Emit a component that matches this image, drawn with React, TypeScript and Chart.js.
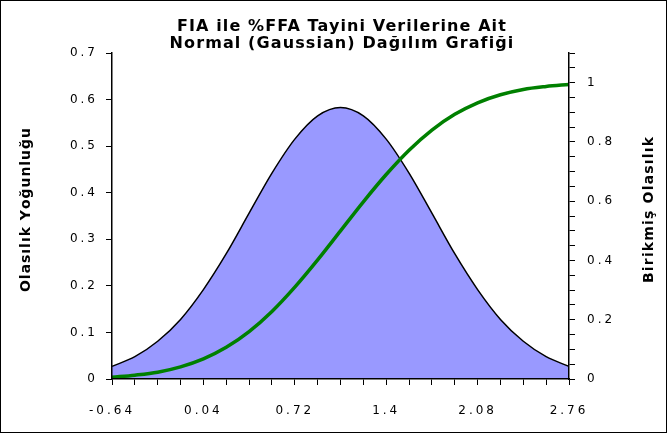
import React, { useEffect, useRef } from 'react';
import { Chart, registerables } from 'chart.js';

Chart.register(...registerables);

const titleLines = ['FIA ile %FFA Tayini Verilerine Ait', 'Normal (Gaussian) Dağılım Grafiği'];
const leftAxisTitle = 'Olasılık Yoğunluğu';
const rightAxisTitle = 'Birikmiş Olasılık';

const xValues = [-0.64, -0.47, -0.3, -0.13, 0.04, 0.21, 0.38, 0.55, 0.72, 0.89, 1.06, 1.23, 1.4, 1.57, 1.74, 1.91, 2.08, 2.25, 2.42, 2.59, 2.76];
const densityValues = [0.027, 0.048, 0.081, 0.128, 0.192, 0.269, 0.356, 0.442, 0.515, 0.565, 0.583, 0.565, 0.515, 0.442, 0.356, 0.269, 0.192, 0.128, 0.081, 0.048, 0.027];
const cumulativeValues = [0.006, 0.013, 0.023, 0.041, 0.068, 0.107, 0.16, 0.228, 0.31, 0.402, 0.5, 0.598, 0.69, 0.772, 0.84, 0.893, 0.932, 0.959, 0.977, 0.987, 0.994];

const fmt = (v: number) => String(Number(v.toFixed(2)));
const TICK_FONT = { family: '"DejaVu Sans", Verdana, sans-serif', size: 12 };
const AXIS_TITLE_FONT = 'bold 14px "DejaVu Sans", Verdana, sans-serif';

function drawSpaced(ctx: CanvasRenderingContext2D, text: string, font: string, cx: number, y: number, targetWidth: number) {
  ctx.font = '10px serif';
  (ctx as any).letterSpacing = '0px';
  ctx.font = font;
  ctx.textAlign = 'left';
  const chars = Array.from(text);
  const widths = chars.map((c) => ctx.measureText(c).width);
  const natural = widths.reduce((a, b) => a + b, 0);
  const spacing = Math.max(0, (targetWidth - natural) / (chars.length - 1));
  const total = natural + spacing * (chars.length - 1);
  let x = cx - total / 2;
  chars.forEach((c, i) => {
    ctx.fillText(c, x, y);
    x += widths[i] + spacing;
  });
}

export default function App() {
  const ref = useRef<HTMLCanvasElement>(null);

  useEffect(() => {
    document.body.style.margin = '0';
    const canvas = ref.current!;

    const spacingPlugin = {
      id: 'tickSpacing',
      beforeUpdate(chart: any) {
        chart.ctx.save();
        chart.ctx.letterSpacing = '3px';
      },
      afterUpdate(chart: any) {
        chart.ctx.restore();
      },
      beforeDraw(chart: any) {
        chart.ctx.save();
        chart.ctx.letterSpacing = '3px';
      },
      afterDraw(chart: any) {
        chart.ctx.restore();
      },
    };

    const textPlugin = {
      id: 'axisTitles',
      afterDraw(chart: any) {
        const ctx = chart.ctx as CanvasRenderingContext2D;
        ctx.save();
        ctx.fillStyle = '#000';
        ctx.textBaseline = 'middle';
        const cy = 209;
        ctx.save();
        ctx.translate(25, cy);
        ctx.rotate(-Math.PI / 2);
        drawSpaced(ctx, leftAxisTitle, AXIS_TITLE_FONT, 0, 0, 164);
        ctx.restore();
        ctx.save();
        ctx.translate(648, cy);
        ctx.rotate(-Math.PI / 2);
        drawSpaced(ctx, rightAxisTitle, AXIS_TITLE_FONT, 0, 0, 146);
        ctx.restore();
        ctx.restore();
      },
    };

    const chart = new Chart(canvas, {
      type: 'line',
      data: {
        labels: xValues.map((v) => fmt(v)),
        datasets: [
          {
            label: 'Birikmiş Olasılık',
            data: cumulativeValues,
            yAxisID: 'y1',
            borderColor: '#008000',
            borderWidth: 3.5,
            pointRadius: 0,
            fill: false,
            cubicInterpolationMode: 'monotone',
            order: 0,
          },
          {
            label: 'Olasılık Yoğunluğu',
            data: densityValues,
            yAxisID: 'y',
            borderColor: '#000000',
            borderWidth: 1.5,
            backgroundColor: '#9999FF',
            pointRadius: 0,
            fill: 'origin',
            cubicInterpolationMode: 'monotone',
            order: 1,
          },
        ],
      },
      options: {
        animation: false,
        responsive: false,
        devicePixelRatio: 1,
        layout: { padding: { top: 52, left: 0, right: 0, bottom: 0 } },
        plugins: {
          legend: { display: false },
          title: { display: false },
          tooltip: { enabled: false },
        },
        scales: {
          x: {
            type: 'category',
            offset: false,
            grid: { display: true, drawOnChartArea: false, drawTicks: true, tickLength: 6, color: '#000', offset: false },
            border: { display: true, color: '#000', width: 1.5, z: 1 },
            ticks: {
              autoSkip: false,
              maxRotation: 0,
              padding: 19,
              color: '#000',
              font: TICK_FONT,
              callback: (_v: any, i: number) => (i % 4 === 0 ? fmt(xValues[i]) : ''),
            },
            afterFit: (s: any) => {
              s.height = 53;
            },
          },
          y: {
            type: 'linear',
            position: 'left',
            min: 0,
            max: 0.7,
            grid: { display: true, drawOnChartArea: false, drawTicks: true, tickLength: 6, color: '#000' },
            border: { display: true, color: '#000', width: 1.5, z: 1 },
            ticks: {
              stepSize: 0.1,
              padding: 8,
              color: '#000',
              font: TICK_FONT,
              callback: (v: any) => fmt(Number(v)),
            },
            afterFit: (s: any) => {
              s.width = 111;
            },
          },
          y1: {
            type: 'linear',
            position: 'right',
            min: 0,
            max: 1.1,
            grid: { display: true, drawOnChartArea: false, drawTicks: true, tickLength: 6, color: '#000' },
            border: { display: true, color: '#000', width: 1.5, z: 1 },
            ticks: {
              stepSize: 0.05,
              autoSkip: false,
              padding: 12,
              color: '#000',
              font: TICK_FONT,
              callback: (v: any) => {
                const n = Number(v);
                const r = n / 0.2;
                return Math.abs(r - Math.round(r)) < 1e-6 ? fmt(n) : '';
              },
            },
            afterFit: (s: any) => {
              s.width = 97;
            },
          },
        },
      },
      plugins: [spacingPlugin, textPlugin],
    } as any);

    return () => chart.destroy();
  }, []);

  const titleStyle: React.CSSProperties = {
    position: 'absolute',
    left: 91,
    width: 500,
    textAlign: 'center',
    font: 'bold 16px "DejaVu Sans", Verdana, sans-serif',
    lineHeight: '17px',
    letterSpacing: '1.1px',
    whiteSpace: 'nowrap',
    color: '#000',
    pointerEvents: 'none',
  };

  return (
    <div
      style={{
        position: 'relative',
        width: 667,
        height: 433,
        border: '1px solid #000',
        boxSizing: 'border-box',
        background: '#fff',
      }}
    >
      <canvas ref={ref} width={665} height={431} style={{ display: 'block', width: 665, height: 431 }} />
      <div style={{ ...titleStyle, top: 16 }}>{titleLines[0]}</div>
      <div style={{ ...titleStyle, top: 33 }}>{titleLines[1]}</div>
    </div>
  );
}
